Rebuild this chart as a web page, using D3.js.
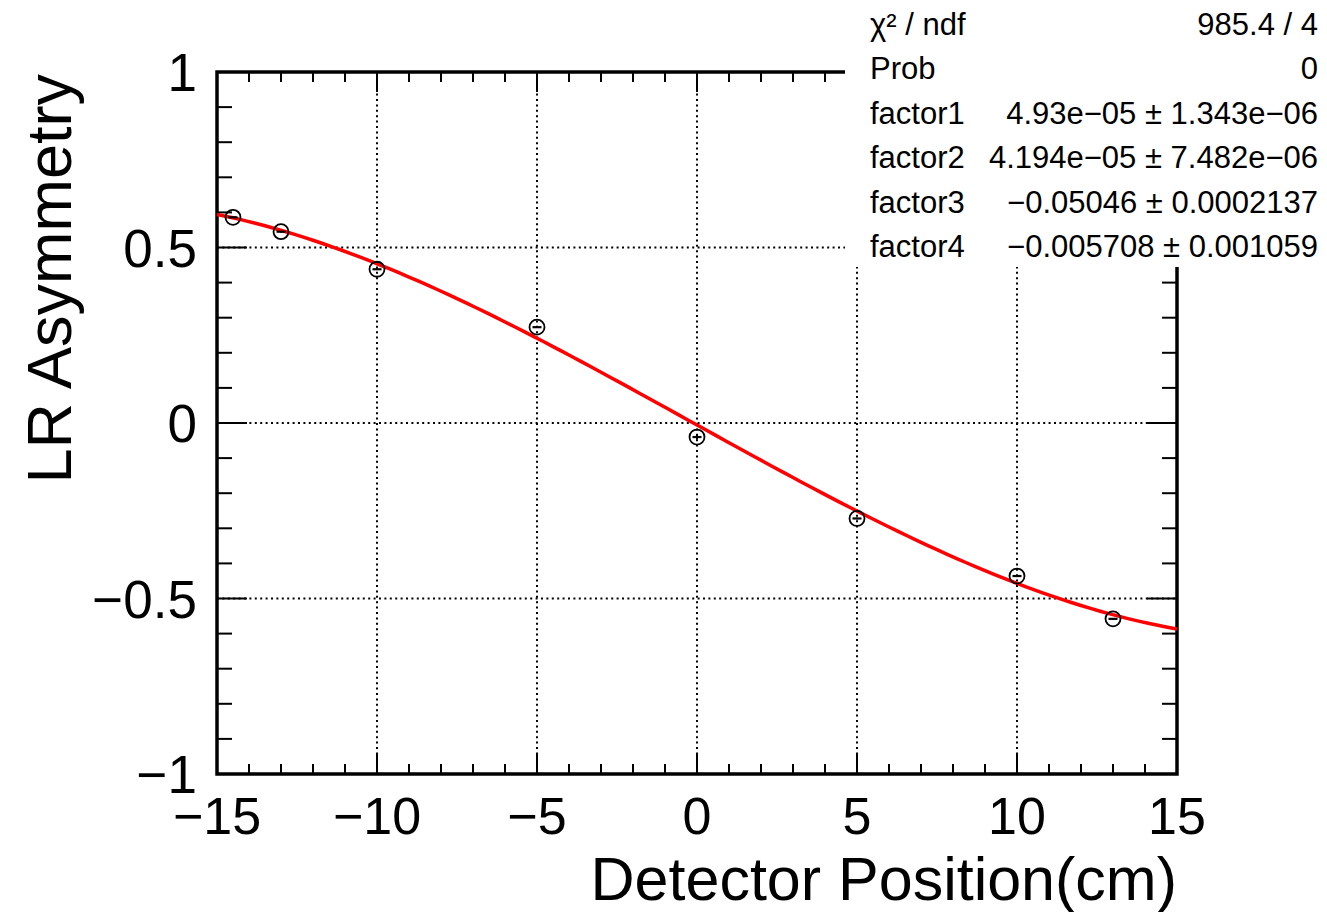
<!DOCTYPE html>
<html>
<head>
<meta charset="utf-8">
<script src="https://cdn.jsdelivr.net/npm/d3@7"></script>
<style>
  html, body { margin: 0; padding: 0; background: #fff; }
  svg { display: block; }
  text { font-family: "Liberation Sans", Arial, Helvetica, sans-serif; fill: #000; }
</style>
</head>
<body>
<svg id="chart" width="1327" height="912"></svg>
<script>
// Measured LR asymmetry versus detector position
const positions = [-14.5, -13, -10, -5, 0, 5, 10, 13];
const asymmetry = [0.586, 0.545, 0.438, 0.273, -0.040, -0.272, -0.436, -0.558];
const asymErr   = [0.002, 0.002, 0.002, 0.002, 0.007, 0.002, 0.002, 0.002];

// Cubic fit parameters: factor1*x^3 + factor2*x^2 + factor3*x + factor4
const fitParams = [4.93e-05, 4.194e-05, -0.05046, -0.005708];

// Statistics box rows
const statNames  = ["χ² / ndf", "Prob", "factor1", "factor2", "factor3", "factor4"];
const statValues = ["985.4 / 4", "0", "4.93e−05 ± 1.343e−06", "4.194e−05 ± 7.482e−06",
                    "−0.05046 ± 0.0002137", "−0.005708 ± 0.001059"];

// Axis ticks
const xMajorTicks = [-15, -10, -5, 0, 5, 10, 15];
const yMajorTicks = [-1, -0.5, 0, 0.5, 1];
const xGridTicks = [-10, -5, 0, 5, 10];
const yGridTicks = [-0.5, 0, 0.5];

const svg = d3.select("#chart");
const frame = { left: 217, right: 1177, top: 72, bottom: 774 };

const x = d3.scaleLinear().domain([-15, 15]).range([frame.left, frame.right]);
const y = d3.scaleLinear().domain([-1, 1]).range([frame.bottom, frame.top]);

// Grid
const grid = svg.append("g");
grid.selectAll("line.gx").data(xGridTicks).join("line")
  .attr("x1", d => x(d)).attr("x2", d => x(d))
  .attr("y1", frame.top).attr("y2", frame.bottom)
  .attr("stroke", "#000").attr("stroke-width", 2).attr("stroke-dasharray", "2 3.4");
grid.selectAll("line.gy").data(yGridTicks).join("line")
  .attr("x1", frame.left).attr("x2", frame.right)
  .attr("y1", d => y(d)).attr("y2", d => y(d))
  .attr("stroke", "#000").attr("stroke-width", 2).attr("stroke-dasharray", "2 3.4");

// Axes: ticks pointing into the frame on all four sides
const axisG = svg.append("g");
function xAxis(g, pos, dir) {
  const minor = d3.range(-15, 15.001, 1);
  g.selectAll(null).data(minor).join("line")
    .attr("x1", d => x(d)).attr("x2", d => x(d))
    .attr("y1", pos).attr("y2", d => pos + dir * (d % 5 === 0 ? 20 : 10))
    .attr("stroke", "#000").attr("stroke-width", 2);
}
function yAxis(g, pos, dir) {
  const minor = d3.range(-10, 10.001, 1).map(v => v / 10);
  g.selectAll(null).data(minor).join("line")
    .attr("y1", d => y(d)).attr("y2", d => y(d))
    .attr("x1", pos).attr("x2", d => pos + dir * (Math.abs(Math.round(d * 10)) % 5 === 0 ? 30 : 15))
    .attr("stroke", "#000").attr("stroke-width", 2);
}
xAxis(axisG.append("g"), frame.bottom, -1);
xAxis(axisG.append("g"), frame.top, 1);
yAxis(axisG.append("g"), frame.left, 1);
yAxis(axisG.append("g"), frame.right, -1);

axisG.append("rect")
  .attr("x", frame.left).attr("y", frame.top)
  .attr("width", frame.right - frame.left).attr("height", frame.bottom - frame.top)
  .attr("fill", "none").attr("stroke", "#000").attr("stroke-width", 3.5);

// Tick labels
axisG.selectAll("text.xl").data(xMajorTicks).join("text")
  .attr("x", d => x(d)).attr("y", 834)
  .attr("text-anchor", "middle").attr("font-size", 52)
  .text(d => d3.format("")(d));
axisG.selectAll("text.yl").data(yMajorTicks).join("text")
  .attr("x", 197).attr("y", d => y(d) + 19)
  .attr("text-anchor", "end").attr("font-size", 53)
  .text(d => d3.format("")(d));

// Axis titles
svg.append("text")
  .attr("x", frame.right).attr("y", 900)
  .attr("text-anchor", "end").attr("font-size", 61)
  .text("Detector Position(cm)");
svg.append("text")
  .attr("transform", `translate(71,${frame.top + 2}) rotate(-90)`)
  .attr("text-anchor", "end").attr("font-size", 63)
  .text("LR Asymmetry");

// Fit curve
const fitFn = v => fitParams[0] * v ** 3 + fitParams[1] * v ** 2 + fitParams[2] * v + fitParams[3];
const curveX = d3.range(0, 101).map(i => -15 + i * 0.3);
svg.append("path")
  .datum(curveX)
  .attr("d", d3.line().x(d => x(d)).y(d => y(fitFn(d))))
  .attr("fill", "none").attr("stroke", "#ff0000").attr("stroke-width", 3.5);

// Data points with error bars
const pts = positions.map((p, i) => ({ p, a: asymmetry[i], e: asymErr[i] }));
const ptG = svg.append("g");
ptG.selectAll("line.err").data(pts).join("line")
  .attr("x1", d => x(d.p)).attr("x2", d => x(d.p))
  .attr("y1", d => y(d.a + d.e)).attr("y2", d => y(d.a - d.e))
  .attr("stroke", "#000").attr("stroke-width", 2);
ptG.selectAll("line.dash").data(pts).join("line")
  .attr("x1", d => x(d.p) - 4.5).attr("x2", d => x(d.p) + 4.5)
  .attr("y1", d => y(d.a)).attr("y2", d => y(d.a))
  .attr("stroke", "#000").attr("stroke-width", 2.2);
ptG.selectAll("circle").data(pts).join("circle")
  .attr("cx", d => x(d.p)).attr("cy", d => y(d.a)).attr("r", 7.5)
  .attr("fill", "none").attr("stroke", "#000").attr("stroke-width", 1.8);

// Statistics box
const stats = svg.append("g");
stats.append("rect").attr("x", 845).attr("y", 0).attr("width", 482).attr("height", 267)
  .attr("fill", "#fff");
statNames.forEach((name, i) => {
  const by = 35 + i * 44.4;
  stats.append("text").attr("x", 870).attr("y", by).attr("font-size", 31).text(name);
  stats.append("text").attr("x", 1318).attr("y", by).attr("font-size", 31)
    .attr("text-anchor", "end").text(statValues[i]);
});
</script>
</body>
</html>
